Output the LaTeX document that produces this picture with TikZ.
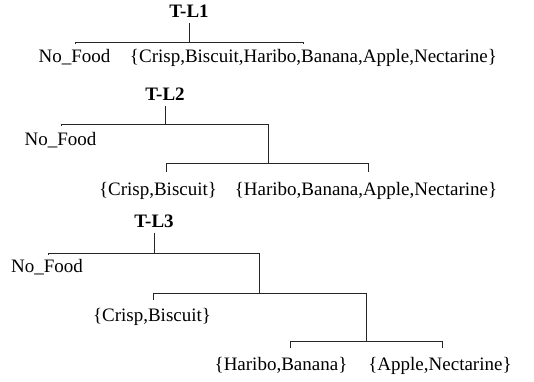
\documentclass[tikz,border=0pt]{standalone}
\usepackage{fontspec}
\setmainfont{Liberation Serif}
\begin{document}
\begin{tikzpicture}[x=1bp,y=-1bp,
  lbl/.style={inner sep=0pt, anchor=base, font=\fontsize{19bp}{22bp}\selectfont},
  ttl/.style={inner sep=0pt, outer sep=6bp, anchor=base, font=\fontsize{19bp}{22bp}\selectfont\bfseries},
  br/.style={line width=0.8bp, draw=black!85}]
\useasboundingbox (0,0) rectangle (534,381);
% ---------- T-L1
\node[ttl] (t1) at (189,17) {T-L1};
\coordinate (t1j) at (189,42);
\coordinate (t1l) at (75,42);
\coordinate (t1r) at (303,42);
\coordinate (t1lt) at (75,44);
\coordinate (t1rt) at (303,44);
\node[lbl] (t1a) at (74.5,62) {No\_Food};
\node[lbl] (t1b) at (313.5,62) {\{Crisp,Biscuit,Haribo,Banana,Apple,Nectarine\}};
\draw[br] (t1) -- (t1j);
\draw[br] (t1lt) -- (t1l) -- (t1r) -- (t1rt);
% ---------- T-L2
\node[ttl] (t2) at (165,100) {T-L2};
\coordinate (t2j) at (165,124);
\coordinate (t2l) at (61,124);
\coordinate (t2lt) at (61,126);
\coordinate (t2r) at (268,124);
\coordinate (t2m) at (268,163);
\coordinate (t2ml) at (166,163);
\coordinate (t2mlt) at (166,172);
\coordinate (t2mr) at (368,163);
\coordinate (t2mrt) at (368,172);
\node[lbl] (t2a) at (60.5,145) {No\_Food};
\node[lbl] (t2b) at (158,195) {\{Crisp,Biscuit\}};
\node[lbl] (t2c) at (366,195) {\{Haribo,Banana,Apple,Nectarine\}};
\draw[br] (t2) -- (t2j);
\draw[br] (t2lt) -- (t2l) -- (t2r) -- (t2m);
\draw[br] (t2mlt) -- (t2ml) -- (t2mr) -- (t2mrt);
% ---------- T-L3
\node[ttl] (t3) at (154,227) {T-L3};
\coordinate (t3j) at (154,253);
\coordinate (t3l) at (48,253);
\coordinate (t3lt) at (48,255);
\coordinate (t3r) at (259,253);
\coordinate (t3m) at (259,293);
\coordinate (t3ml) at (153,293);
\coordinate (t3mlt) at (153,300);
\coordinate (t3mr) at (366,293);
\coordinate (t3n) at (366,341);
\coordinate (t3nl) at (290,341);
\coordinate (t3nlt) at (290,348);
\coordinate (t3nr) at (442,341);
\coordinate (t3nrt) at (442,348);
\node[lbl] (t3a) at (47,272) {No\_Food};
\node[lbl] (t3b) at (152,321) {\{Crisp,Biscuit\}};
\node[lbl] (t3c) at (281,370) {\{Haribo,Banana\}};
\node[lbl] (t3d) at (440,370) {\{Apple,Nectarine\}};
\draw[br] (t3) -- (t3j);
\draw[br] (t3lt) -- (t3l) -- (t3r) -- (t3m);
\draw[br] (t3mlt) -- (t3ml) -- (t3mr) -- (t3n);
\draw[br] (t3nlt) -- (t3nl) -- (t3nr) -- (t3nrt);
\end{tikzpicture}
\end{document}
